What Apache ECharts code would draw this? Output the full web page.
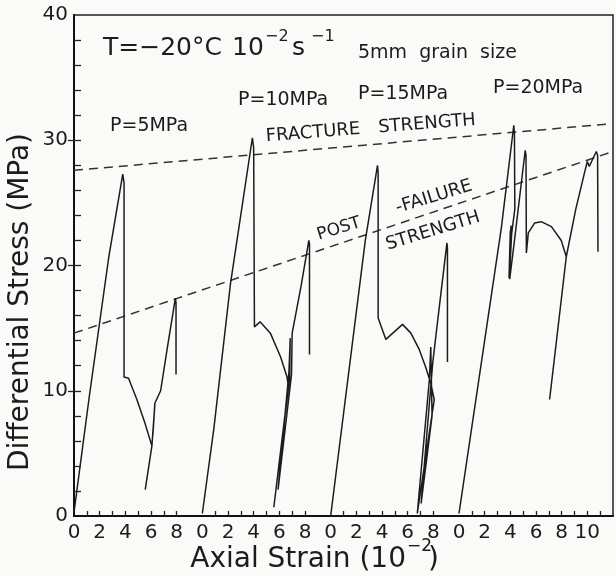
<!DOCTYPE html>
<html>
<head>
<meta charset="utf-8">
<script src="https://cdn.jsdelivr.net/npm/echarts@6/dist/echarts.min.js"></script>
<style>
html,body{margin:0;padding:0;background:#fafaf8;}
#chart{width:616px;height:576px;}
</style>
</head>
<body>
<div id="chart"></div>
<script>
// ---- data (strain in 1e-2, panels offset by 10 units each; stress in MPa) ----
const strainP5  = [0.0, 1.2, 2.7, 3.8, 3.9, 3.9, 4.25, 4.9, 5.5, 6.07, 5.55, 6.07, 6.3, 6.15, 6.3, 6.75, 7.3, 7.9, 7.95, 7.95];
const stressP5  = [0.3, 9.6, 20.6, 27.3, 26.6, 11.1, 11.0, 9.3, 7.5, 5.6, 2.1, 5.6, 8.9, 6.5, 9.0, 10.0, 13.6, 17.4, 17.0, 11.3];

const strainP10 = [10.0, 10.9, 12.2, 13.9, 14.0, 14.06, 14.5, 15.3, 16.1, 16.6, 16.7, 15.57, 16.8, 16.85, 16.75, 15.9, 16.95, 17.0, 17.7, 18.3, 18.35, 18.35];
const stressP10 = [0.2, 7.0, 18.6, 30.2, 29.4, 15.1, 15.5, 14.6, 12.7, 11.1, 10.3, 0.7, 11.0, 14.2, 11.5, 2.1, 11.3, 14.6, 18.4, 22.0, 21.7, 12.9];

const strainP15 = [20.0, 22.7, 23.65, 23.7, 23.7, 24.3, 25.6, 26.25, 26.9, 27.4, 27.8, 28.07, 26.75, 27.7, 27.8, 27.9, 27.05, 27.95, 28.5, 29.06, 29.1, 29.1];
const stressP15 = [0.0, 22.0, 28.0, 27.4, 15.8, 14.1, 15.3, 14.6, 13.3, 11.9, 10.6, 9.3, 0.2, 11.0, 13.5, 8.0, 1.0, 12.2, 17.0, 21.8, 21.4, 12.3];

const strainP20 = [30.0, 33.3, 34.27, 34.32, 34.35, 34.1, 33.95, 34.05, 33.9, 34.0, 33.95, 34.3, 35.16, 35.22, 35.25, 35.4, 35.9, 36.4, 37.2, 37.97, 38.36, 37.06, 38.36, 39.1, 39.8, 40.0, 40.15, 40.7, 40.8, 40.83];
const stressP20 = [0.2, 23.0, 31.2, 30.5, 24.5, 22.5, 19.5, 23.2, 19.0, 22.8, 18.9, 21.8, 29.2, 28.8, 21.0, 22.6, 23.4, 23.5, 23.1, 22.0, 20.7, 9.3, 20.7, 24.5, 27.5, 28.3, 27.9, 29.1, 28.8, 21.1];

const fractureStrain = [0, 41.7];
const fractureStress = [27.6, 31.3];
const postFailStrain = [0, 41.7];
const postFailStress = [14.6, 29.0];

const xLabelValues = [0,2,4,6,8,10,12,14,16,18,20,22,24,26,28,30,32,34,36,38,40];
const xLabelTexts  = ['0','2','4','6','8','0','2','4','6','8','0','2','4','6','8','0','2','4','6','8','10'];
const xTickValues  = [1,2,3,4,5,6,7,8, 11,12,13,14,15,16,17,18, 21,22,23,24,25,26,27,28, 31,32,33,34,35,36,37,38,39,40,41];
const yLabelValues = [0,10,20,30,40];
const yTickValues  = [2,4,6,8,10,12,14,16,18,20,22,24,26,28,30,32,34,36,38];
const yMajorTicks  = [10,20,30];

const panelLabels = ['P=5MPa','P=10MPa','P=15MPa','P=20MPa'];

// ---- chart ----
const pairs = (xs, ys) => xs.map((x, i) => [x, ys[i]]);
const INK = '#1c1c1c';
const FONT = '"DejaVu Sans", sans-serif';

const curveStyle = { color: INK, width: 1.5 };
const dashStyle = { color: '#333', width: 1.5, type: [9, 6] };

function curve(xs, ys) {
  return { type: 'line', data: pairs(xs, ys), symbol: 'none', lineStyle: curveStyle, z: 3, silent: true };
}
function dashed(xs, ys) {
  return { type: 'line', data: pairs(xs, ys), symbol: 'none', lineStyle: dashStyle, z: 2, silent: true };
}

function txt(text, x, y, size, opts) {
  opts = opts || {};
  return {
    type: 'text', x: x, y: y, rotation: opts.rot || 0, z: 10,
    style: {
      text: text, fill: INK, font: (size) + 'px ' + FONT,
      textAlign: opts.align || 'left', textVerticalAlign: 'middle'
    }
  };
}
const deg = Math.PI / 180;

const chart = echarts.init(document.getElementById('chart'), null, { renderer: 'canvas' });
chart.setOption({
  animation: false,
  backgroundColor: '#fafaf8',
  grid: { left: 74, right: 3, top: 15, bottom: 60, show: true, borderColor: '#222', borderWidth: 1.5, backgroundColor: 'transparent' },
  xAxis: {
    type: 'value', min: 0, max: 42,
    axisLine: { show: true, onZero: false, lineStyle: { color: '#111', width: 2 } },
    axisTick: { show: true, inside: true, length: 5, customValues: xTickValues, lineStyle: { color: '#222', width: 1.3 } },
    axisLabel: {
      show: true, customValues: xLabelValues, margin: 7, color: INK, fontSize: 20, fontFamily: FONT,
      formatter: v => { const i = xLabelValues.indexOf(Math.round(v)); return i >= 0 ? xLabelTexts[i] : ''; }
    },
    splitLine: { show: false }, minorTick: { show: false }
  },
  yAxis: [{
    type: 'value', min: 0, max: 40,
    axisLine: { show: true, onZero: false, lineStyle: { color: '#111', width: 2 } },
    axisTick: { show: true, inside: true, length: 7, customValues: yTickValues, lineStyle: { color: '#222', width: 1.3 } },
    axisLabel: { show: true, customValues: yLabelValues, margin: 6, color: INK, fontSize: 20, fontFamily: FONT },
    splitLine: { show: false }
  }, {
    type: 'value', min: 0, max: 40, position: 'left',
    axisLine: { show: false },
    axisTick: { show: true, inside: false, length: 6, customValues: yMajorTicks, lineStyle: { color: '#222', width: 1.3 } },
    axisLabel: { show: false },
    splitLine: { show: false }
  }],
  series: [
    dashed(fractureStrain, fractureStress),
    dashed(postFailStrain, postFailStress),
    curve(strainP5, stressP5),
    curve(strainP10, stressP10),
    curve(strainP15, stressP15),
    curve(strainP20, stressP20)
  ],
  graphic: [
    txt('T=\u221220\u00B0C', 103, 48, 25),
    txt('10', 232, 48, 25),
    txt('\u22122', 265, 37, 16),
    txt('s', 292, 48, 25),
    txt('\u22121', 311, 37, 16),
    txt('5mm  grain  size', 358, 53, 19),
    txt(panelLabels[0], 110, 126, 19),
    txt(panelLabels[1], 238, 100, 19),
    txt(panelLabels[2], 358, 94, 19),
    txt(panelLabels[3], 493, 88, 19),
    txt('FRACTURE', 313, 133, 18, { align: 'center', rot: 4.5 * deg }),
    txt('STRENGTH', 427, 124, 18, { align: 'center', rot: 4.5 * deg }),
    txt('POST', 339, 229, 17, { align: 'center', rot: 17 * deg }),
    txt('\u2010FAILURE', 434, 197, 18, { align: 'center', rot: 17 * deg }),
    txt('STRENGTH', 433, 231, 18, { align: 'center', rot: 17 * deg }),
    txt('Axial Strain (10', 406, 560, 28, { align: 'right' }),
    txt('\u22122', 407, 547, 17),
    txt(')', 428, 560, 28),
    txt('Differential Stress (MPa)', 21, 302, 28, { align: 'center', rot: 90 * deg })
  ]
});
</script>
</body>
</html>
